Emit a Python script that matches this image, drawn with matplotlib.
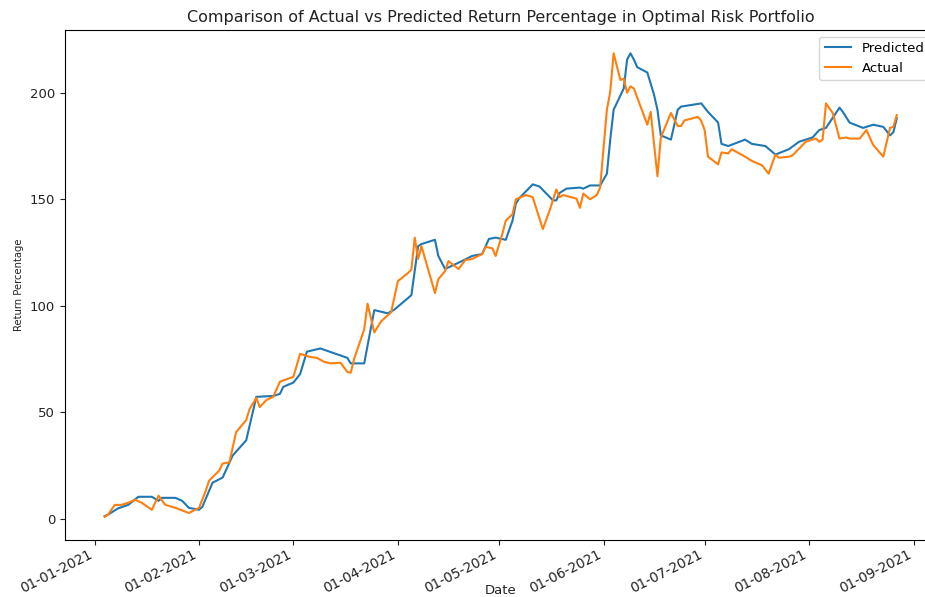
import matplotlib
matplotlib.use('Agg')
import matplotlib.pyplot as plt
import matplotlib.dates as mdates
import pandas as pd

# values
pred_dates = ['2021-01-04', '2021-01-05', '2021-01-08', '2021-01-11', '2021-01-14', '2021-01-18',
              '2021-01-20', '2021-01-21', '2021-01-25', '2021-01-27', '2021-01-29', '2021-02-01',
              '2021-02-02', '2021-02-05', '2021-02-08', '2021-02-11', '2021-02-15', '2021-02-18',
              '2021-02-23', '2021-02-25', '2021-02-26', '2021-03-01', '2021-03-03', '2021-03-05',
              '2021-03-09', '2021-03-17', '2021-03-18', '2021-03-22', '2021-03-25', '2021-03-29',
              '2021-03-31', '2021-04-05', '2021-04-07', '2021-04-08', '2021-04-12', '2021-04-13',
              '2021-04-15', '2021-04-20', '2021-04-23', '2021-04-26', '2021-04-28', '2021-04-30',
              '2021-05-03', '2021-05-05', '2021-05-06', '2021-05-07', '2021-05-11', '2021-05-13',
              '2021-05-17', '2021-05-18', '2021-05-19', '2021-05-21', '2021-05-25', '2021-05-26',
              '2021-05-28', '2021-05-31', '2021-06-02', '2021-06-03', '2021-06-04', '2021-06-07',
              '2021-06-08', '2021-06-09', '2021-06-10', '2021-06-11', '2021-06-14', '2021-06-16',
              '2021-06-17', '2021-06-18', '2021-06-21', '2021-06-23', '2021-06-24', '2021-06-30',
              '2021-07-02', '2021-07-05', '2021-07-06', '2021-07-08', '2021-07-13', '2021-07-15',
              '2021-07-19', '2021-07-22', '2021-07-26', '2021-07-29', '2021-08-02', '2021-08-04',
              '2021-08-06', '2021-08-10', '2021-08-11', '2021-08-13', '2021-08-17', '2021-08-20',
              '2021-08-23', '2021-08-25', '2021-08-26', '2021-08-27']
pred_vals = [1.3, 2, 5, 6.6, 10.4, 10.4,
             8.5, 9.9, 9.9, 8.5, 5.2, 4.3,
             5.7, 17, 19.4, 29.8, 36.9, 57.3,
             57.7, 58.7, 62, 64, 68, 78.5,
             80, 75.6, 73, 73, 98, 96.5,
             98.3, 105, 128, 129, 131, 123.4,
             117.3, 121, 123.4, 124.3, 131.4, 132,
             131, 140, 148, 150.5, 157, 156,
             149.5, 149.5, 153, 155, 155.5, 155,
             156.5, 156.5, 162, 178, 192, 202,
             215.6, 218.5, 215.6, 212, 209.5, 199,
             192, 180, 178, 192, 193.5, 195,
             191, 186, 176, 175, 178, 176,
             175, 171, 173.5, 177, 179, 182.5,
             183.5, 193, 191, 186, 183.5, 185,
             184, 180, 181.5, 188]

act_dates = ['2021-01-04', '2021-01-05', '2021-01-07', '2021-01-09', '2021-01-11', '2021-01-13',
             '2021-01-15', '2021-01-18', '2021-01-20', '2021-01-22', '2021-01-25', '2021-01-29',
             '2021-02-01', '2021-02-03', '2021-02-04', '2021-02-07', '2021-02-08', '2021-02-10',
             '2021-02-12', '2021-02-15', '2021-02-16', '2021-02-18', '2021-02-19', '2021-02-21',
             '2021-02-23', '2021-02-25', '2021-03-01', '2021-03-03', '2021-03-06', '2021-03-08',
             '2021-03-10', '2021-03-12', '2021-03-15', '2021-03-17', '2021-03-18', '2021-03-19',
             '2021-03-22', '2021-03-23', '2021-03-25', '2021-03-27', '2021-03-30', '2021-04-01',
             '2021-04-04', '2021-04-05', '2021-04-06', '2021-04-07', '2021-04-08', '2021-04-10',
             '2021-04-12', '2021-04-13', '2021-04-15', '2021-04-16', '2021-04-19', '2021-04-21',
             '2021-04-23', '2021-04-26', '2021-04-27', '2021-04-29', '2021-04-30', '2021-05-02',
             '2021-05-03', '2021-05-05', '2021-05-06', '2021-05-09', '2021-05-11', '2021-05-14',
             '2021-05-16', '2021-05-18', '2021-05-19', '2021-05-20', '2021-05-24', '2021-05-25',
             '2021-05-26', '2021-05-28', '2021-05-30', '2021-05-31', '2021-06-02', '2021-06-03',
             '2021-06-04', '2021-06-06', '2021-06-07', '2021-06-08', '2021-06-09', '2021-06-10',
             '2021-06-14', '2021-06-15', '2021-06-17', '2021-06-18', '2021-06-21', '2021-06-23',
             '2021-06-24', '2021-06-25', '2021-06-29', '2021-06-30', '2021-07-01', '2021-07-02',
             '2021-07-05', '2021-07-06', '2021-07-08', '2021-07-09', '2021-07-13', '2021-07-14',
             '2021-07-15', '2021-07-18', '2021-07-20', '2021-07-22', '2021-07-23', '2021-07-26',
             '2021-07-27', '2021-07-31', '2021-08-03', '2021-08-04', '2021-08-05', '2021-08-06',
             '2021-08-08', '2021-08-10', '2021-08-12', '2021-08-13', '2021-08-16', '2021-08-18',
             '2021-08-20', '2021-08-23', '2021-08-25', '2021-08-26', '2021-08-27']
act_vals = [1, 2, 6.6, 6.6, 7.6, 9,
            7.6, 4.3, 10.9, 6.6, 5.2, 2.8,
            5.2, 13.2, 18, 22.7, 26, 26.5,
            40.7, 46.4, 51.6, 56.8, 52.5, 55.8,
            57.3, 64.4, 66.7, 77.5, 76, 75.6,
            73.8, 73, 73.3, 69, 68.6, 75,
            88.9, 101, 87.5, 92.7, 97, 111.6,
            115.4, 117, 132, 122, 128, 117,
            106, 112.5, 116.3, 121, 117.3, 121.5,
            122, 124.3, 127.7, 127, 123.4, 133.8,
            140, 143, 150, 152, 151, 136,
            144.7, 154.6, 151, 152, 150.3, 146,
            152.7, 150, 152, 155.6, 192, 200.5,
            218.5, 206, 206.6, 200, 203, 202,
            185, 191, 160.8, 179, 190.5, 184.4,
            184.4, 187, 188.7, 186.8, 182.5, 170,
            166.4, 172, 171.5, 173.5, 170, 169,
            168, 166, 162, 171, 169.5, 170,
            170.5, 177, 178.5, 177, 178, 195,
            190.5, 178.5, 179, 178.5, 178.5, 182.5,
            175.5, 170, 183.5, 184, 189.5]

pred = pd.Series(pred_vals, index=pd.to_datetime(pred_dates))
act = pd.Series(act_vals, index=pd.to_datetime(act_dates))

fig = plt.figure(figsize=(9.25, 5.97), dpi=100)
# right edge runs past the figure, as in the cropped reference
ax = fig.add_axes([0.0703, 0.0955, 0.942, 0.854])

ax.plot(pred.index, pred.values, label='Predicted', linewidth=1.5)
ax.plot(act.index, act.values, label='Actual', linewidth=1.5)

ax.xaxis.set_major_locator(mdates.MonthLocator())
ax.xaxis.set_major_formatter(mdates.DateFormatter('%d-%m-%Y'))
ax.tick_params(axis='x', labelsize=9.8, colors='#222222', pad=2)
ax.tick_params(axis='y', labelsize=9.5, colors='#222222')
for lbl in ax.get_xticklabels():
    lbl.set_rotation(27)
    lbl.set_ha('right')

ax.set_title('Comparison of Actual vs Predicted Return Percentage in Optimal Risk Portfolio',
             fontsize=11.5, color='#222222')
ax.set_xlabel('Date', fontsize=9.5, color='#222222')
ax.xaxis.set_label_coords(0.5, -0.086)
ax.set_ylabel('Return Percentage', fontsize=8, fontstretch='condensed', color='#222222')
ax.legend(loc='upper right', fontsize=9.5)

plt.savefig('out.png', dpi=100)
plt.close()
